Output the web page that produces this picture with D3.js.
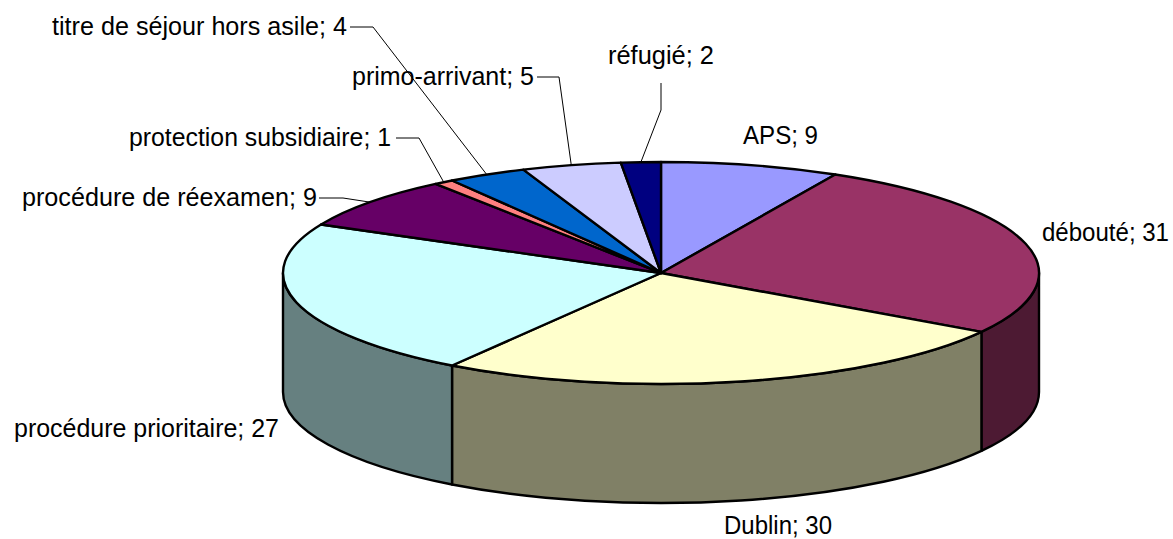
<!DOCTYPE html>
<html>
<head>
<meta charset="utf-8">
<script src="https://cdn.jsdelivr.net/npm/d3@7"></script>
<style>
  html, body { margin: 0; background: #fff; }
  text { font-family: "Liberation Sans", Arial, sans-serif; font-size: 25px; fill: #000; }
</style>
</head>
<body>
<svg id="chart" width="1173" height="539"></svg>
<script>
const categories = ["APS", "débouté", "Dublin", "procédure prioritaire", "procédure de réexamen",
    "protection subsidiaire", "titre de séjour hors asile", "primo-arrivant", "réfugié"]
const values = [9, 31, 30, 27, 9, 1, 4, 5, 2]
const topColors = ["#9999FF", "#993366", "#FFFFCC", "#CCFFFF", "#660066", "#FF8080", "#0066CC", "#CCCCFF", "#000080"]
const sideColors = ["#4D4D80", "#4D1A33", "#808066", "#668080", "#330033", "#804040", "#003366", "#666680", "#000040"]

// label placement on the page: left x, baseline y, width, and the elbow of the leader if there is one
const labelX = [743, 1042, 724, 14, 22, 129, 52, 352, 608]
const labelY = [144, 241, 534, 437, 206, 146, 35, 85, 64]
const labelW = [75, 127, 108, 265, 295, 262, 295, 182, 106]
const leaders = [null, null, null, null,
    [[319, 198], [343, 198]],
    [[396, 138], [419, 138]],
    [[350, 27], [373, 27]],
    [[537, 77], [559, 77]],
    [[661, 83], [661, 110]]]

let cx = 661, cy = 273,
    rx = 378, ry = 111,
    depth = 119

let svg = d3.select("#chart")

let slices = d3.pie().sort(null).value(d => d)(values)

let arc = d3.arc().innerRadius(0).outerRadius(rx)

// point on the rim of the top ellipse, angle clockwise from 12 o'clock
function rim(a) {
    return [cx + rx * Math.sin(a), cy - ry * Math.cos(a)]
}

// only the front half of the rim has a visible wall
function wallPath(d) {
    let a0 = Math.max(d.startAngle, Math.PI / 2),
        a1 = Math.min(d.endAngle, Math.PI * 1.5)
    if (a0 >= a1) return null
    let p0 = rim(a0), p1 = rim(a1)
    return "M" + p0 + "A" + rx + "," + ry + " 0 0 1 " + p1 +
        "L" + [p1[0], p1[1] + depth] +
        "A" + rx + "," + ry + " 0 0 0 " + [p0[0], p0[1] + depth] + "Z"
}

svg.append("g").selectAll("path")
    .data(slices.filter(wallPath))
    .enter().append("path")
    .attr("d", wallPath)
    .style("fill", d => sideColors[d.index])
    .style("stroke", "#000")
    .style("stroke-width", 2.4)
    .style("stroke-linejoin", "round")

svg.append("g")
    .attr("transform", "translate(" + cx + "," + cy + ") scale(1," + (ry / rx) + ")")
    .selectAll("path")
    .data(slices)
    .enter().append("path")
    .attr("d", arc)
    .attr("vector-effect", "non-scaling-stroke")
    .style("fill", d => topColors[d.index])
    .style("stroke", "#000")
    .style("stroke-width", 2.4)
    .style("stroke-linejoin", "round")

// leaders run from the elbow to the rim at the middle of the slice
svg.append("g").selectAll("polyline")
    .data(slices.filter(d => leaders[d.index]))
    .enter().append("polyline")
    .attr("points", d => leaders[d.index].concat([rim((d.startAngle + d.endAngle) / 2)]).join(" "))
    .style("fill", "none")
    .style("stroke", "#000")
    .style("stroke-width", 1)

svg.append("g").selectAll("text")
    .data(slices)
    .enter().append("text")
    .attr("x", d => labelX[d.index])
    .attr("y", d => labelY[d.index])
    .attr("textLength", d => labelW[d.index])
    .attr("lengthAdjust", "spacingAndGlyphs")
    .text(d => categories[d.index] + "; " + d.value)
</script>
</body>
</html>
